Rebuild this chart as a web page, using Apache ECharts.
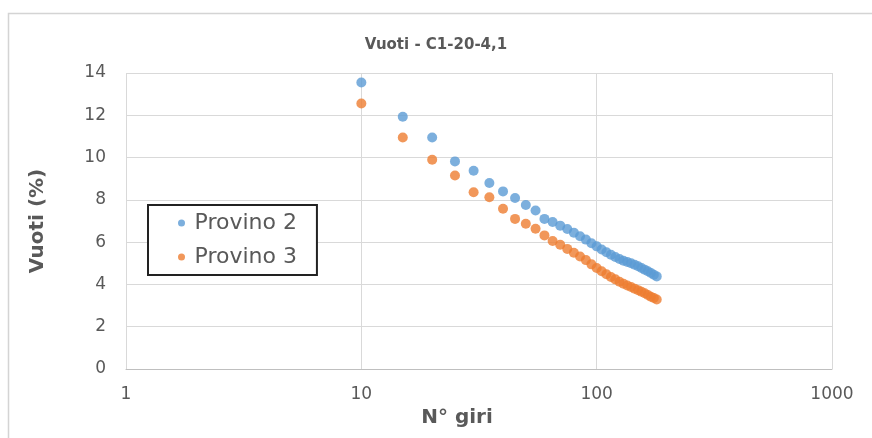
<!DOCTYPE html>
<html>
<head>
<meta charset="utf-8">
<script src="https://cdn.jsdelivr.net/npm/echarts@6/dist/echarts.min.js"></script>
<style>
html,body{margin:0;padding:0;background:#fff;}
#chart{width:872px;height:438px;}
</style>
</head>
<body>
<div id="chart"></div>
<script>
const giri = [10,15,20,25,30,35,40,45,50,55,60,65,70,75,80,85,90,95,100,105,110,115,120,125,130,135,140,145,150,155,160,165,170,175,180];
const provino2 = [13.55,11.93,10.95,9.82,9.38,8.80,8.40,8.09,7.76,7.50,7.10,6.95,6.78,6.62,6.45,6.28,6.12,5.95,5.80,5.65,5.52,5.40,5.30,5.20,5.12,5.06,5.00,4.93,4.86,4.78,4.70,4.62,4.54,4.46,4.38];
const provino3 = [12.56,10.95,9.90,9.15,8.36,8.12,7.58,7.10,6.87,6.63,6.32,6.05,5.88,5.68,5.50,5.32,5.15,4.95,4.78,4.62,4.48,4.35,4.24,4.13,4.03,3.95,3.88,3.80,3.73,3.65,3.58,3.50,3.42,3.36,3.29];
const seriesNames = ['Provino 2','Provino 3'];
const colors = ['#5B9BD5','#ED7D31'];

const FONT = '"DejaVu Sans", sans-serif';
const chart = echarts.init(document.getElementById('chart'), null, {renderer:'canvas'});
function pairs(vals){ return giri.map((n,i)=>[n, vals[i]]); }
chart.setOption({
  animation:false,
  backgroundColor:'#fff',
  graphic:[{
    type:'rect', left:6, top:11, shape:{width:900,height:500},
    style:{fill:'none', stroke:'#d4d4d4', lineWidth:1.5}, silent:true, z:-10
  }],
  title:{
    text:'Vuoti - C1-20-4,1', left:'center', top:33,
    textStyle:{fontFamily:FONT, fontSize:15, fontWeight:'bold', color:'#595959'}
  },
  legend:{
    orient:'vertical', left:148, top:205,
    backgroundColor:'#fff', borderColor:'#222', borderWidth:2,
    padding:[7,20,7,30], itemGap:12, itemWidth:16, itemHeight:7,
    icon:'circle',
    textStyle:{fontFamily:FONT, fontSize:22, color:'#595959'},
    data:seriesNames
  },
  grid:{left:126, right:40, top:73, bottom:69, containLabel:false},
  xAxis:{
    type:'log', logBase:10, min:1, max:1000,
    name:'N° giri', nameLocation:'middle', nameGap:27,
    nameTextStyle:{fontFamily:FONT, fontSize:20, fontWeight:'bold', color:'#595959', padding:[0,44,0,0]},
    axisLine:{show:true, lineStyle:{color:'#bfbfbf'}},
    axisTick:{show:false},
    axisLabel:{fontFamily:FONT, fontSize:17, color:'#595959', margin:17, formatter:v=>String(v)},
    splitLine:{show:true, lineStyle:{color:'#d9d9d9', width:1}},
    minorTick:{show:false}
  },
  yAxis:{
    type:'value', min:0, max:14, interval:2,
    name:'Vuoti (%)', nameLocation:'middle', nameGap:78, nameRotate:90,
    nameTextStyle:{fontFamily:FONT, fontSize:20, fontWeight:'bold', color:'#595959'},
    axisLine:{show:false}, axisTick:{show:false},
    axisLabel:{fontFamily:FONT, fontSize:17, color:'#595959', margin:20},
    splitLine:{show:true, lineStyle:{color:'#d9d9d9', width:1}}
  },
  series:[
    {name:seriesNames[0], type:'scatter', symbol:'circle', symbolSize:10,
     itemStyle:{color:colors[0]}, data:pairs(provino2)},
    {name:seriesNames[1], type:'scatter', symbol:'circle', symbolSize:10,
     itemStyle:{color:colors[1]}, data:pairs(provino3)}
  ]
});
</script>
</body>
</html>
